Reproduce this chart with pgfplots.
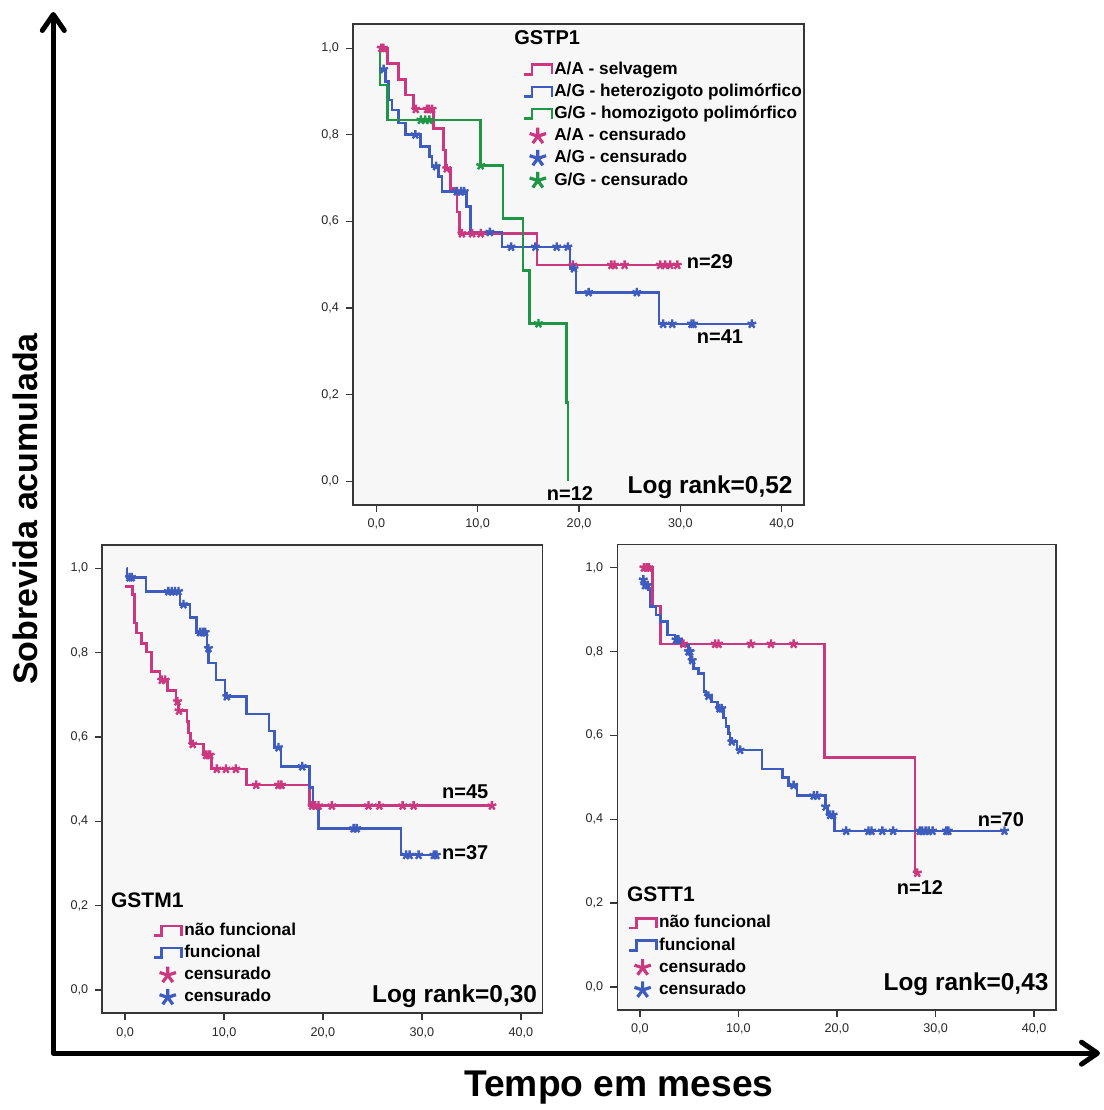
\documentclass[border=0pt]{standalone}
\usepackage{fontspec}
\setmainfont{Liberation Sans}
\usepackage{pgfplots}
\pgfplotsset{compat=1.18}
\usetikzlibrary{arrows.meta}

\definecolor{cpink}{RGB}{204,56,128}
\definecolor{cblue}{RGB}{62,92,190}
\definecolor{cgreen}{RGB}{30,150,70}
\definecolor{bgc}{RGB}{247,247,247}
\definecolor{framec}{RGB}{55,55,55}

\newcommand{\fs}[1]{\fontsize{#1}{#1}\selectfont}

\tikzset{
  ann/.style={inner sep=0pt, font=\bfseries\fs{10}},
  lr/.style={inner sep=0pt, anchor=east, font=\bfseries\fs{12.2}},
}

\pgfplotsset{
  km/.style={
    scale only axis, anchor=south west, clip mode=individual,
    xmin=-2.3, xmax=42.2, ymin=-0.055, ymax=1.055,
    axis background/.style={fill=bgc},
    axis line style={draw=framec, line width=0.8pt},
    xtick={0,10,20,30,40},
    xticklabels={{0,0},{10,0},{20,0},{30,0},{40,0}},
    ytick={0,0.2,0.4,0.6,0.8,1},
    yticklabels={{0,0},{0,2},{0,4},{0,6},{0,8},{1,0}},
    xtick pos=left, ytick pos=left,
    tick align=outside, major tick length=3.5pt,
    tick style={draw=framec, line width=0.6pt},
    tick label style={font=\fs{6.3}, text=black!85},
    every axis plot/.append style={line width=1.3pt},
    legend style={draw=none, fill=none, inner sep=0pt, row sep=1.3pt,
      font=\bfseries\fs{8.6}, nodes={inner sep=0.6pt, text height=6.6pt, text depth=2pt}},
    legend cell align=left,
  },
  stepleg/.style={legend image code/.code={
    \draw[##1] (0pt,-2.4pt) -- (4pt,-2.4pt) -- (4pt,2.4pt) -- (14pt,2.4pt) -- (14pt,-2.4pt);}},
  starleg/.style={legend image code/.code={
    \draw[##1, mark size=4.3pt, mark options={line width=1.6pt}] plot coordinates {(7pt,0pt)};}},
  cens/.style={only marks, mark=star, mark size=2.3pt, mark options={line width=1.2pt}},
}

\begin{document}
\begin{tikzpicture}
\useasboundingbox (0pt,0pt) rectangle (552pt,555pt);

% eixos externos
\draw[line width=2.5pt, line join=round,
  {Straight Barb[length=8pt,width=11pt,round]}-{Straight Barb[length=8pt,width=11pt,round]}]
  (26.65pt,549pt) -- (26.65pt,28.4pt) -- (550pt,28.4pt);
\node[rotate=90, font=\bfseries\fs{17}] at (12.5pt,300.5pt) {Sobrevida acumulada};
\node[font=\bfseries\fs{18.6}] at (309.5pt,11pt) {Tempo em meses};

% ---- GSTP1 ----
\begin{axis}[km, at={(176.5pt,302.5pt)}, width=225.5pt, height=240.35pt,
  legend style={at={(0.375,0.927)}, anchor=north west}]
\addplot[cpink, const plot, stepleg] coordinates {
  (0.33,1.0) (1.12,0.965) (2.2,0.927) (2.86,0.892) (3.68,0.859) (5.65,0.815)
  (6.64,0.765) (6.8,0.722) (7.3,0.676) (7.96,0.622) (8.2,0.572) (15.85,0.499) (29.7,0.499)};
\addlegendentry{A/A - selvagem}
\addplot[cblue, const plot, stepleg] coordinates {
  (0.33,0.951) (0.89,0.923) (1.22,0.880) (1.55,0.857) (2.2,0.827) (2.86,0.8)
  (4.34,0.773) (5.23,0.750) (5.49,0.727) (6.15,0.704) (6.48,0.669) (8.87,0.634)
  (9.27,0.575) (12.4,0.541) (19.1,0.491) (19.7,0.436) (27.9,0.363) (37.05,0.363)};
\addlegendentry{A/G - heterozigoto polimórfico}
\addplot[cgreen, const plot, stepleg] coordinates {
  (0.33,1.0) (0.35,0.915) (1.12,0.834) (10.26,0.729) (12.5,0.606) (14.47,0.486)
  (15.1,0.364) (18.74,0.182) (18.9,0.0)};
\addlegendentry{G/G - homozigoto polimórfico}
\addplot[cpink, cens, starleg] coordinates {
  (0.5,1.0) (0.7,1.0) (3.9,0.859) (5.0,0.859) (5.2,0.859) (5.5,0.859) (6.95,0.722)
  (8.45,0.572) (9.45,0.572) (10.3,0.572) (19.4,0.499) (23.2,0.499) (23.5,0.499)
  (24.5,0.499) (28.0,0.499) (28.5,0.499) (29.0,0.499) (29.7,0.499)};
\addlegendentry{A/A - censurado}
\addplot[cblue, cens, starleg] coordinates {
  (0.72,0.951) (3.85,0.8) (5.9,0.727) (7.95,0.669) (8.38,0.669) (8.67,0.669)
  (11.2,0.575) (13.3,0.541) (15.7,0.541) (17.8,0.541) (18.9,0.541) (19.5,0.491)
  (20.95,0.436) (25.7,0.436) (28.3,0.363) (29.2,0.363) (31.1,0.363) (31.3,0.363) (37.05,0.363)};
\addlegendentry{A/G - censurado}
\addplot[cgreen, cens, starleg] coordinates {
  (4.4,0.834) (4.83,0.834) (5.23,0.834) (10.3,0.729) (16.0,0.364)};
\addlegendentry{G/G - censurado}
\node[ann] at (axis cs:16.86,1.024) {GSTP1};
\node[ann, anchor=west] at (axis cs:30.6,0.506) {n=29};
\node[ann, anchor=west] at (axis cs:31.6,0.333) {n=41};
\node[ann, anchor=west] at (axis cs:16.8,-0.028) {n=12};
\node[lr] at (axis cs:41.1,-0.014) {Log rank=0,52};
\end{axis}

% ---- GSTM1 ----
\begin{axis}[km, at={(51.15pt,48.35pt)}, width=220.2pt, height=234.15pt,
  legend style={at={(0.113,0.198)}, anchor=north west}]
\addplot[cpink, const plot, stepleg] coordinates {
  (0.0,0.956) (0.78,0.937) (0.94,0.870) (1.18,0.846) (1.68,0.822) (2.19,0.801)
  (2.7,0.755) (3.54,0.735) (4.31,0.710) (5.16,0.684) (5.39,0.662) (6.24,0.636)
  (6.4,0.609) (6.64,0.583) (7.92,0.557) (8.76,0.524) (12.3,0.486) (18.64,0.437) (37.07,0.437)};
\addlegendentry{não funcional}
\addplot[cblue, const plot, stepleg] coordinates {
  (0.17,1.0) (0.2,0.978) (2.12,0.945) (5.56,0.914) (6.57,0.883) (7.24,0.848)
  (8.26,0.810) (8.43,0.775) (9.17,0.735) (10.1,0.696) (12.3,0.654) (14.56,0.614)
  (15.07,0.575) (15.77,0.530) (18.64,0.48) (19.0,0.437) (19.55,0.383) (27.88,0.320) (31.45,0.320)};
\addlegendentry{funcional}
\addplot[cpink, cens, starleg] coordinates {
  (3.71,0.735) (4.05,0.735) (5.3,0.684) (5.45,0.662) (6.84,0.583) (8.19,0.557)
  (8.43,0.557) (8.6,0.557) (9.27,0.524) (10.2,0.524) (11.2,0.524) (13.25,0.486)
  (15.5,0.486) (15.8,0.486) (18.9,0.437) (19.2,0.437) (19.55,0.437) (20.9,0.437)
  (24.6,0.437) (25.7,0.437) (28.05,0.437) (29.16,0.437) (37.07,0.437)};
\addlegendentry{censurado}
\addplot[cblue, cens, starleg] coordinates {
  (0.45,0.978) (0.67,0.978) (4.38,0.945) (4.72,0.945) (5.05,0.945) (5.4,0.945)
  (5.9,0.914) (7.58,0.848) (7.85,0.848) (8.09,0.848) (8.43,0.810) (10.28,0.696)
  (15.5,0.575) (17.9,0.530) (23.1,0.383) (23.4,0.383) (28.4,0.320) (28.75,0.320)
  (29.66,0.320) (31.2,0.320) (31.45,0.320)};
\addlegendentry{censurado}
\node[ann, anchor=west] at (axis cs:32.0,0.47) {n=45};
\node[ann, anchor=west] at (axis cs:32.0,0.325) {n=37};
\node[ann, anchor=west, font=\bfseries\fs{10.5}] at (axis cs:-1.45,0.213) {GSTM1};
\node[lr] at (axis cs:41.66,-0.014) {Log rank=0,30};
\end{axis}

% ---- GSTT1 ----
\begin{axis}[km, at={(308.65pt,50pt)}, width=219.2pt, height=232.7pt,
  legend style={at={(0.022,0.208)}, anchor=north west}]
\addplot[cpink, const plot, stepleg] coordinates {
  (0.17,1.0) (1.29,0.909) (2.1,0.818) (18.75,0.547) (27.9,0.272) (28.15,0.272)};
\addlegendentry{não funcional}
\addplot[cblue, const plot, stepleg] coordinates {
  (0.1,0.971) (0.4,0.958) (0.8,0.947) (1.0,0.907) (1.63,0.887) (2.1,0.871)
  (2.78,0.839) (3.56,0.828) (4.24,0.815) (4.9,0.8) (5.1,0.779) (5.42,0.760)
  (5.93,0.748) (6.51,0.704) (6.71,0.694) (7.29,0.680) (7.87,0.664) (8.48,0.641)
  (8.72,0.621) (8.99,0.605) (9.15,0.585) (9.83,0.565) (12.38,0.520) (14.48,0.499)
  (15.09,0.481) (15.94,0.456) (18.82,0.430) (19.06,0.410) (19.73,0.372) (37.0,0.372)};
\addlegendentry{funcional}
\addplot[cpink, cens, starleg] coordinates {
  (0.4,1.0) (0.68,1.0) (0.91,1.0) (4.41,0.818) (7.63,0.818) (7.97,0.818)
  (11.26,0.818) (13.3,0.818) (15.6,0.818) (28.15,0.272)};
\addlegendentry{censurado}
\addplot[cblue, cens, starleg] coordinates {
  (0.34,0.971) (0.51,0.958) (0.78,0.958) (3.66,0.828) (3.9,0.828) (4.92,0.8)
  (5.09,0.8) (5.3,0.779) (6.95,0.694) (8.07,0.664) (8.3,0.664) (9.33,0.585)
  (10.17,0.565) (15.6,0.481) (17.64,0.456) (17.98,0.456) (18.85,0.430) (19.3,0.410)
  (19.6,0.410) (20.93,0.372) (23.2,0.372) (23.5,0.372) (24.6,0.372) (25.7,0.372)
  (28.4,0.372) (28.65,0.372) (29.0,0.372) (29.3,0.372) (29.7,0.372) (31.1,0.372)
  (31.3,0.372) (37.0,0.372)};
\addlegendentry{censurado}
\node[ann, anchor=west] at (axis cs:34.25,0.40) {n=70};
\node[ann, anchor=west] at (axis cs:26.04,0.236) {n=12};
\node[ann, anchor=west, font=\bfseries\fs{10.5}] at (axis cs:-1.35,0.221) {GSTT1};
\node[lr] at (axis cs:41.5,0.006) {Log rank=0,43};
\end{axis}
\end{tikzpicture}
\end{document}
